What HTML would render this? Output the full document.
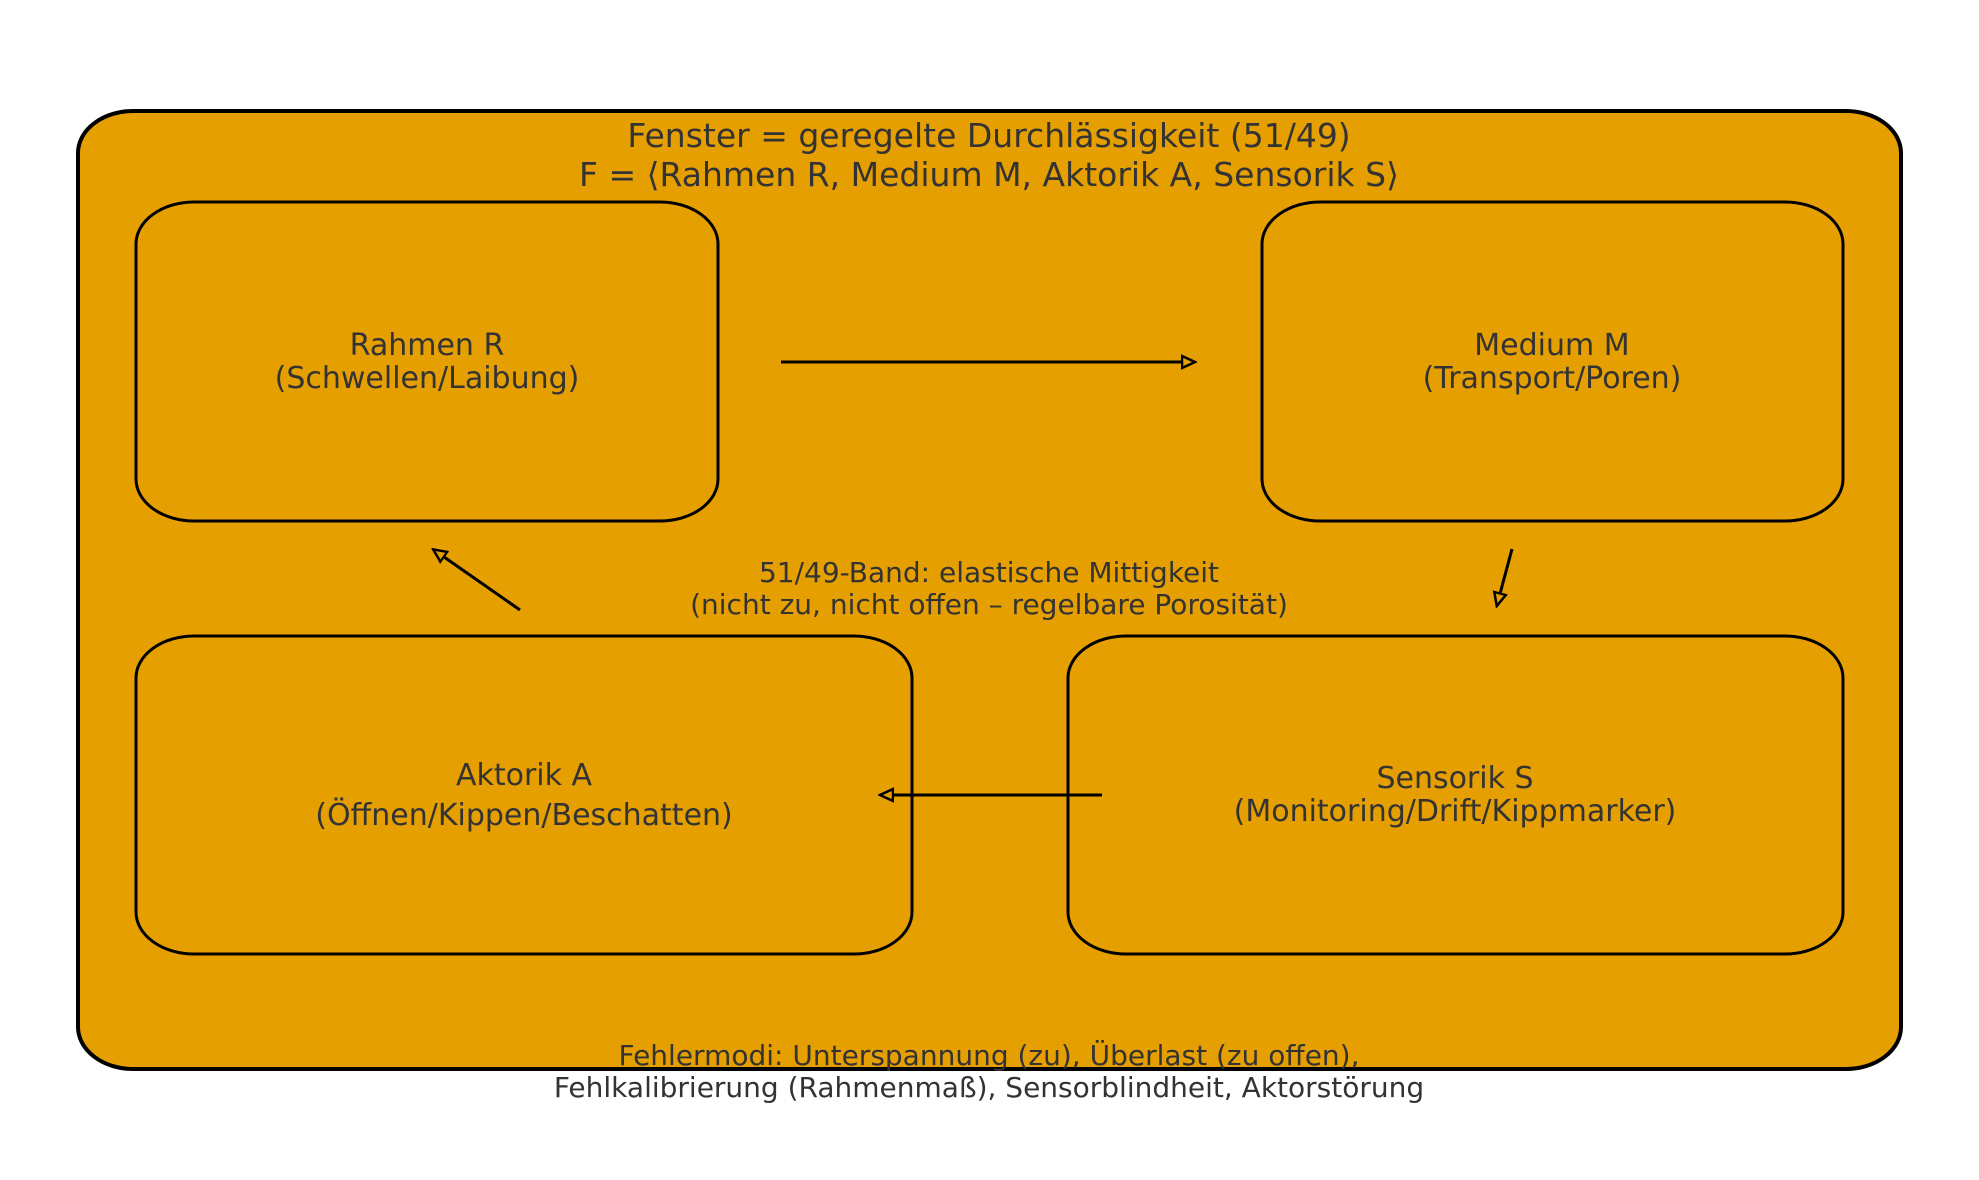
<!DOCTYPE html>
<html><head><meta charset="utf-8"><style>
html,body{margin:0;padding:0;background:#fff;}
svg{display:block;}
text{font-family:"DejaVu Sans","Liberation Sans",sans-serif;fill:#333;text-anchor:middle;}
</style></head><body>
<svg width="1979" height="1180" viewBox="0 0 1979 1180" xmlns="http://www.w3.org/2000/svg">
<defs>
<marker id="a" markerWidth="16" markerHeight="16" refX="13" refY="8" orient="auto" markerUnits="userSpaceOnUse">
<path d="M1,2 L14,8 L1,14 Z" fill="#E69F00" stroke="#000" stroke-width="2.5"/>
</marker>
</defs>
<rect x="78" y="111" width="1823" height="958" rx="55" ry="42" fill="#E69F00" stroke="#000" stroke-width="4"/>
<text x="989" y="147" font-size="33">Fenster = geregelte Durchlässigkeit (51/49)</text>
<text x="989" y="186" font-size="33">F = ⟨Rahmen R, Medium M, Aktorik A, Sensorik S⟩</text>
<rect x="136" y="202" width="582" height="319" rx="58" ry="42" fill="#E69F00" stroke="#000" stroke-width="3"/>
<rect x="1262" y="202" width="581" height="319" rx="58" ry="42" fill="#E69F00" stroke="#000" stroke-width="3"/>
<rect x="136" y="636" width="776" height="318" rx="58" ry="42" fill="#E69F00" stroke="#000" stroke-width="3"/>
<rect x="1068" y="636" width="775" height="318" rx="58" ry="42" fill="#E69F00" stroke="#000" stroke-width="3"/>
<text x="427" y="355" font-size="30">Rahmen R</text>
<text x="427" y="388" font-size="30">(Schwellen/Laibung)</text>
<text x="1552" y="355" font-size="30">Medium M</text>
<text x="1552" y="388" font-size="30">(Transport/Poren)</text>
<text x="524" y="785" font-size="30">Aktorik A</text>
<text x="524" y="825" font-size="30">(Öffnen/Kippen/Beschatten)</text>
<text x="1455" y="788" font-size="30">Sensorik S</text>
<text x="1455" y="821" font-size="30">(Monitoring/Drift/Kippmarker)</text>
<text x="989" y="582" font-size="28">51/49-Band: elastische Mittigkeit</text>
<text x="989" y="614" font-size="28">(nicht zu, nicht offen – regelbare Porosität)</text>
<text x="989" y="1065" font-size="28">Fehlermodi: Unterspannung (zu), Überlast (zu offen),</text>
<text x="989" y="1097" font-size="28">Fehlkalibrierung (Rahmenmaß), Sensorblindheit, Aktorstörung</text>
<g stroke="#000" stroke-width="3" fill="none">
<line x1="781" y1="362" x2="1194" y2="362" marker-end="url(#a)"/>
<line x1="1512" y1="549" x2="1497" y2="605" marker-end="url(#a)"/>
<line x1="1102" y1="795" x2="881" y2="795" marker-end="url(#a)"/>
<line x1="520" y1="610" x2="434" y2="550" marker-end="url(#a)"/>
</g>
</svg>
</body></html>
